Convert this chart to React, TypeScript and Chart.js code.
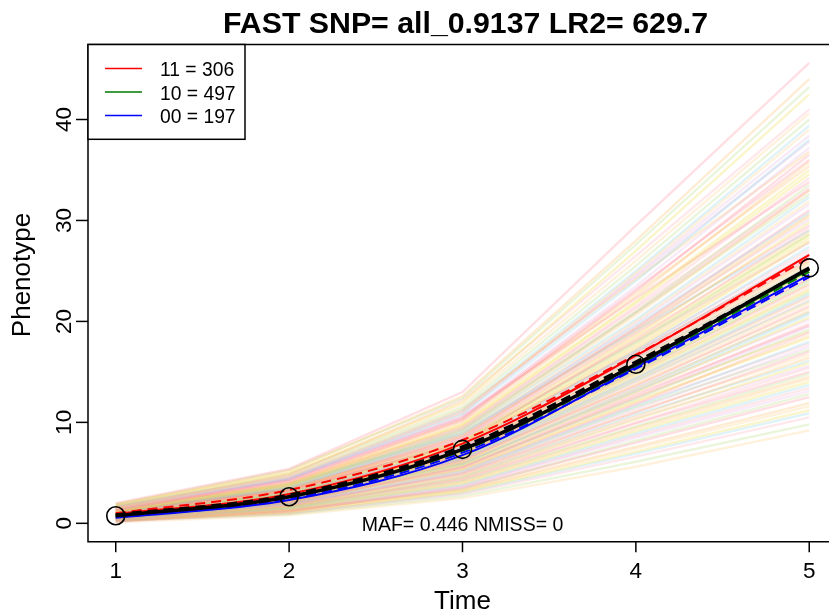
import React, { useEffect, useRef } from "react";
import { Chart, registerables } from "chart.js";

Chart.register(...registerables);

// ---- data ----
const TIME = [1, 2, 3, 4, 5];
const X_TICKS = [1, 2, 3, 4, 5];
const Y_TICKS = [0, 10, 20, 30, 40];

const TITLE = "FAST SNP= all_0.9137 LR2= 629.7";
const X_LABEL = "Time";
const Y_LABEL = "Phenotype";
const NOTE = "MAF= 0.446 NMISS= 0";
const LEGEND_LABELS = ["11 = 306", "10 = 497", "00 = 197"];

// individual trajectories (phenotype at Time 1..5)
const BG_LINES: number[][] = [
  [2.0, 5.4, 13.0, 29.5, 45.6],
  [1.8, 5.2, 12.6, 28.0, 44.0],
  [1.9, 5.0, 12.0, 27.0, 42.5],
  [1.6, 4.8, 12.2, 26.5, 41.0],
  [1.7, 4.9, 11.5, 25.5, 40.0],
  [1.5, 4.6, 11.0, 24.8, 39.0],
  [1.6, 4.4, 10.8, 24.0, 38.0],
  [1.4, 4.5, 10.5, 23.5, 37.2],
  [1.3, 4.2, 10.2, 23.0, 36.5],
  [1.5, 4.0, 10.0, 22.5, 35.8],
  [1.2, 3.9, 9.8, 22.0, 35.0],
  [1.4, 4.1, 9.5, 21.5, 34.2],
  [1.1, 3.7, 9.4, 21.0, 33.5],
  [1.3, 3.8, 9.0, 20.6, 33.0],
  [1.0, 3.5, 9.1, 20.2, 32.3],
  [1.2, 3.6, 8.7, 19.8, 31.6],
  [1.1, 3.4, 8.5, 19.4, 31.0],
  [0.9, 3.3, 8.6, 19.0, 30.4],
  [1.2, 3.5, 8.2, 18.6, 29.8],
  [1.0, 3.2, 8.0, 18.2, 29.2],
  [0.8, 3.0, 8.1, 17.9, 28.6],
  [1.1, 3.1, 7.8, 17.5, 28.0],
  [0.9, 3.0, 7.6, 17.1, 27.4],
  [1.0, 2.9, 7.4, 16.8, 26.8],
  [0.7, 2.8, 7.5, 16.4, 26.2],
  [0.9, 2.9, 7.2, 16.0, 25.6],
  [0.8, 2.7, 7.0, 15.7, 25.0],
  [1.0, 2.6, 6.8, 15.3, 24.4],
  [0.6, 2.5, 6.9, 15.0, 23.9],
  [0.8, 2.6, 6.6, 14.7, 23.3],
  [0.7, 2.4, 6.4, 14.3, 22.7],
  [0.9, 2.5, 6.2, 14.0, 22.1],
  [0.5, 2.3, 6.3, 13.6, 21.5],
  [0.7, 2.2, 6.0, 13.3, 21.0],
  [0.6, 2.3, 5.8, 13.0, 20.4],
  [0.8, 2.1, 5.6, 12.6, 19.8],
  [0.5, 2.0, 5.7, 12.3, 19.2],
  [0.6, 2.1, 5.4, 12.0, 18.6],
  [0.4, 1.9, 5.2, 11.6, 18.0],
  [0.7, 1.8, 5.0, 11.3, 17.5],
  [0.5, 1.9, 4.9, 11.0, 17.0],
  [0.4, 1.7, 4.7, 10.6, 16.4],
  [0.6, 1.6, 4.5, 10.3, 15.9],
  [0.3, 1.7, 4.4, 10.0, 15.4],
  [0.5, 1.5, 4.2, 9.6, 14.8],
  [0.4, 1.4, 4.0, 9.3, 14.3],
  [0.3, 1.5, 3.8, 8.9, 13.7],
  [0.5, 1.3, 3.6, 8.5, 13.1],
  [0.2, 1.2, 3.5, 8.0, 12.5],
  [0.4, 1.3, 3.3, 7.6, 11.9],
  [0.3, 1.1, 3.1, 7.1, 11.2],
  [0.2, 1.0, 2.9, 6.6, 10.5],
  [0.3, 0.9, 2.7, 6.1, 9.8],
  [0.1, 0.8, 2.5, 5.6, 9.2],
  [1.3, 3.9, 8.9, 19.1, 29.0],
  [0.9, 3.1, 8.3, 18.0, 27.8],
  [1.2, 3.3, 7.9, 17.0, 26.5],
  [0.6, 2.6, 7.1, 16.2, 25.9],
  [1.1, 2.8, 6.9, 15.4, 24.9],
  [0.7, 2.7, 6.7, 14.9, 23.6],
  [0.9, 2.4, 6.5, 14.5, 22.9],
  [0.5, 2.2, 6.1, 13.8, 21.8],
  [1.0, 2.4, 5.9, 13.1, 20.7],
  [0.6, 2.0, 5.5, 12.4, 19.5],
  [1.4, 4.3, 10.6, 22.3, 33.8],
  [1.7, 4.7, 11.3, 24.2, 36.8],
  [0.8, 2.9, 7.7, 17.3, 27.9],
  [0.4, 1.8, 5.1, 11.8, 18.9],
  [1.9, 5.3, 12.4, 27.6, 43.2],
  [1.5, 4.9, 11.8, 26.0, 40.6],
  [1.8, 4.6, 11.2, 25.0, 39.4],
  [1.3, 4.4, 11.1, 24.4, 37.8],
  [1.6, 4.3, 10.4, 23.2, 36.0],
  [1.2, 4.0, 10.3, 22.8, 35.4],
  [1.5, 3.8, 9.7, 21.8, 34.6],
  [1.0, 3.9, 9.6, 21.3, 33.2],
  [1.3, 3.6, 9.2, 20.8, 32.6],
  [1.1, 3.7, 8.8, 20.0, 31.9],
  [1.4, 3.4, 8.9, 19.6, 30.8],
  [0.9, 3.5, 8.4, 19.2, 30.1],
  [1.2, 3.2, 8.3, 18.8, 29.5],
  [0.8, 3.3, 7.9, 18.4, 28.9],
  [1.0, 3.0, 7.8, 17.7, 28.3],
  [1.3, 3.1, 7.5, 17.2, 27.1],
  [0.7, 2.9, 7.3, 16.9, 26.6],
  [1.1, 2.7, 7.3, 16.6, 26.0],
  [0.8, 3.0, 7.1, 16.3, 25.4],
  [0.6, 2.8, 7.0, 15.9, 24.7],
  [1.0, 2.5, 6.7, 15.5, 24.2],
  [0.7, 2.6, 6.8, 15.1, 23.7],
  [0.9, 2.3, 6.5, 14.8, 23.1],
  [0.5, 2.5, 6.4, 14.4, 22.5],
  [0.8, 2.2, 6.2, 14.1, 22.0],
  [0.6, 2.4, 6.1, 13.7, 21.3],
  [0.9, 2.2, 5.9, 13.4, 20.9],
  [0.4, 2.1, 5.9, 13.1, 20.2],
  [0.7, 2.0, 5.6, 12.8, 19.6],
  [0.5, 2.1, 5.5, 12.5, 19.0],
  [0.8, 1.9, 5.3, 12.1, 18.4],
  [0.4, 2.0, 5.3, 11.8, 17.8],
  [0.6, 1.7, 5.0, 11.5, 17.2],
  [0.3, 1.8, 4.8, 11.1, 16.7],
  [0.5, 1.6, 4.6, 10.8, 16.1],
  [0.4, 1.5, 4.5, 10.4, 15.6],
  [0.2, 1.6, 4.3, 9.9, 15.0],
  [0.5, 1.4, 4.1, 9.5, 14.5],
  [0.3, 1.3, 3.9, 9.1, 14.0],
  [0.4, 1.2, 3.7, 8.7, 13.4],
  [0.2, 1.3, 3.4, 8.2, 12.8],
  [0.3, 1.1, 3.2, 7.4, 11.6],
  [0.2, 1.0, 3.0, 6.9, 10.9],
  [1.6, 4.5, 10.9, 24.6, 38.4],
  [1.2, 3.8, 9.3, 20.9, 33.0],
  [1.0, 3.4, 8.7, 19.3, 30.6],
  [0.9, 3.2, 8.0, 18.1, 28.6],
  [0.7, 2.8, 7.2, 16.5, 26.4],
  [0.6, 2.5, 6.6, 15.2, 24.1],
  [0.6, 2.3, 6.3, 14.2, 22.4],
];

// group means (solid) and fitted curves (dashed)
const MEAN_ALL = [0.75, 2.63, 7.33, 15.75, 25.3];
const FIT_ALL = [0.85, 2.8, 7.6, 16.0, 25.2];
const MEAN_11 = [0.92, 2.9, 7.9, 16.6, 26.6];
const FIT_11 = [1.0, 3.3, 8.25, 16.7, 26.3];
const MEAN_10 = [0.75, 2.65, 7.3, 15.7, 25.1];
const FIT_10 = [0.72, 2.6, 7.2, 15.6, 24.9];
const MEAN_00 = [0.55, 2.3, 6.75, 15.45, 24.6];
const FIT_00 = [0.6, 2.4, 7.0, 15.3, 24.4];

const BG_PALETTE = [
  "rgba(255,120,140,0.24)",
  "rgba(255,180,90,0.26)",
  "rgba(240,220,70,0.28)",
  "rgba(255,150,170,0.22)",
  "rgba(170,215,110,0.24)",
  "rgba(255,200,120,0.26)",
  "rgba(120,205,230,0.24)",
  "rgba(225,160,215,0.22)",
];

const RED = "#ff0000";
const GREEN = "#007a00";
const BLUE = "#0000ff";

const pts = (ys: number[]) => ys.map((y, i) => ({ x: TIME[i], y }));

export default function App() {
  const ref = useRef<HTMLCanvasElement | null>(null);

  useEffect(() => {
    document.body.style.margin = "0";
    const canvas = ref.current;
    if (!canvas) return;

    const FONT = "'Liberation Sans', Arial, Helvetica, sans-serif";

    const datasets: any[] = [];
    datasets.push({
      data: pts(MEAN_ALL),
      borderColor: "#000",
      borderWidth: 3.5,
      cubicInterpolationMode: "monotone",
      pointRadius: 9,
      pointBorderColor: "#000",
      pointBorderWidth: 1.6,
      pointBackgroundColor: "rgba(0,0,0,0)",
      order: 1,
    });
    datasets.push({
      data: pts(FIT_ALL),
      borderColor: "#000",
      borderWidth: 3,
      borderDash: [10, 6],
      cubicInterpolationMode: "monotone",
      pointRadius: 0,
      order: 2,
    });
    const groups: [number[], number[], string][] = [
      [MEAN_11, FIT_11, RED],
      [MEAN_10, FIT_10, GREEN],
      [MEAN_00, FIT_00, BLUE],
    ];
    groups.forEach(([m, f, c]) => {
      datasets.push({
        data: pts(m),
        borderColor: c,
        borderWidth: 2,
        cubicInterpolationMode: "monotone",
        pointRadius: 0,
        order: 3,
      });
      datasets.push({
        data: pts(f),
        borderColor: c,
        borderWidth: 2,
        borderDash: [10, 6],
        cubicInterpolationMode: "monotone",
        pointRadius: 0,
        order: 3,
      });
    });
    BG_LINES.forEach((ys, i) => {
      datasets.push({
        data: pts(ys),
        borderColor: BG_PALETTE[i % BG_PALETTE.length],
        borderWidth: 2.4,
        tension: 0,
        pointRadius: 0,
        order: 10,
      });
    });

    const decor = {
      id: "decor",
      afterDraw(chart: any) {
        const ctx = chart.ctx as CanvasRenderingContext2D;
        const xs = chart.scales.x;
        const ys = chart.scales.y;
        const area = chart.chartArea;
        const left = area.left;
        const top = area.top;
        const bottom = area.bottom;
        ctx.save();
        ctx.strokeStyle = "#000";
        ctx.fillStyle = "#000";
        ctx.lineWidth = 1.5;
        ctx.beginPath();
        ctx.moveTo(chart.width + 10, top);
        ctx.lineTo(left, top);
        ctx.lineTo(left, bottom);
        ctx.lineTo(chart.width + 10, bottom);
        ctx.stroke();

        ctx.font = `22.5px ${FONT}`;
        ctx.textAlign = "center";
        ctx.textBaseline = "alphabetic";
        Y_TICKS.forEach((v) => {
          const py = ys.getPixelForValue(v);
          ctx.beginPath();
          ctx.moveTo(left - 12, py);
          ctx.lineTo(left, py);
          ctx.stroke();
          ctx.save();
          ctx.translate(left - 17.5, py);
          ctx.rotate(-Math.PI / 2);
          ctx.fillText(String(v), 0, 0);
          ctx.restore();
        });
        X_TICKS.forEach((v) => {
          const px = xs.getPixelForValue(v);
          ctx.beginPath();
          ctx.moveTo(px, bottom);
          ctx.lineTo(px, bottom + 10.5);
          ctx.stroke();
          ctx.fillText(String(v), px, 577.5);
        });

        const cx = (xs.getPixelForValue(0.84) + xs.getPixelForValue(5.16)) / 2;
        ctx.font = `26px ${FONT}`;
        ctx.fillText(X_LABEL, cx, 609);
        ctx.save();
        ctx.translate(30, 275);
        ctx.rotate(-Math.PI / 2);
        ctx.fillText(Y_LABEL, 0, 0);
        ctx.restore();

        ctx.font = `bold 30.3px ${FONT}`;
        ctx.fillText(TITLE, cx + 3, 33);

        ctx.font = `19.5px ${FONT}`;
        ctx.fillText(NOTE, xs.getPixelForValue(3), 530.5);

        const lx0 = left;
        const ly0 = top;
        const lx1 = 245;
        const ly1 = 139.3;
        ctx.fillStyle = "#fff";
        ctx.fillRect(lx0, ly0, lx1 - lx0, ly1 - ly0);
        ctx.strokeStyle = "#000";
        ctx.lineWidth = 1.5;
        ctx.strokeRect(lx0, ly0, lx1 - lx0, ly1 - ly0);
        const colors = [RED, GREEN, BLUE];
        ctx.font = `19.3px ${FONT}`;
        ctx.textAlign = "left";
        LEGEND_LABELS.forEach((lab, i) => {
          const y = 68.5 + i * 23.5;
          ctx.strokeStyle = colors[i];
          ctx.lineWidth = 1.6;
          ctx.beginPath();
          ctx.moveTo(105, y);
          ctx.lineTo(142, y);
          ctx.stroke();
          ctx.fillStyle = "#000";
          ctx.fillText(lab, 160, y + 7.5);
        });
        ctx.restore();
      },
    };

    const chart = new Chart(canvas, {
      type: "line",
      data: { datasets },
      options: {
        animation: false,
        responsive: false,
        devicePixelRatio: 1,
        layout: {
          autoPadding: false,
          padding: { left: 88, top: 44.5, right: 0, bottom: 73.3 },
        },
        scales: {
          x: { type: "linear", min: 0.84, max: 5.114, display: false },
          y: { type: "linear", min: -1.82, max: 47.43, display: false },
        },
        plugins: {
          legend: { display: false },
          tooltip: { enabled: false },
          title: { display: false },
        },
        elements: { line: { fill: false } },
      },
      plugins: [decor],
    });
    return () => chart.destroy();
  }, []);

  return (
    <div style={{ width: 829, height: 615, background: "#fff" }}>
      <canvas ref={ref} width={829} height={615} style={{ display: "block" }} />
    </div>
  );
}
